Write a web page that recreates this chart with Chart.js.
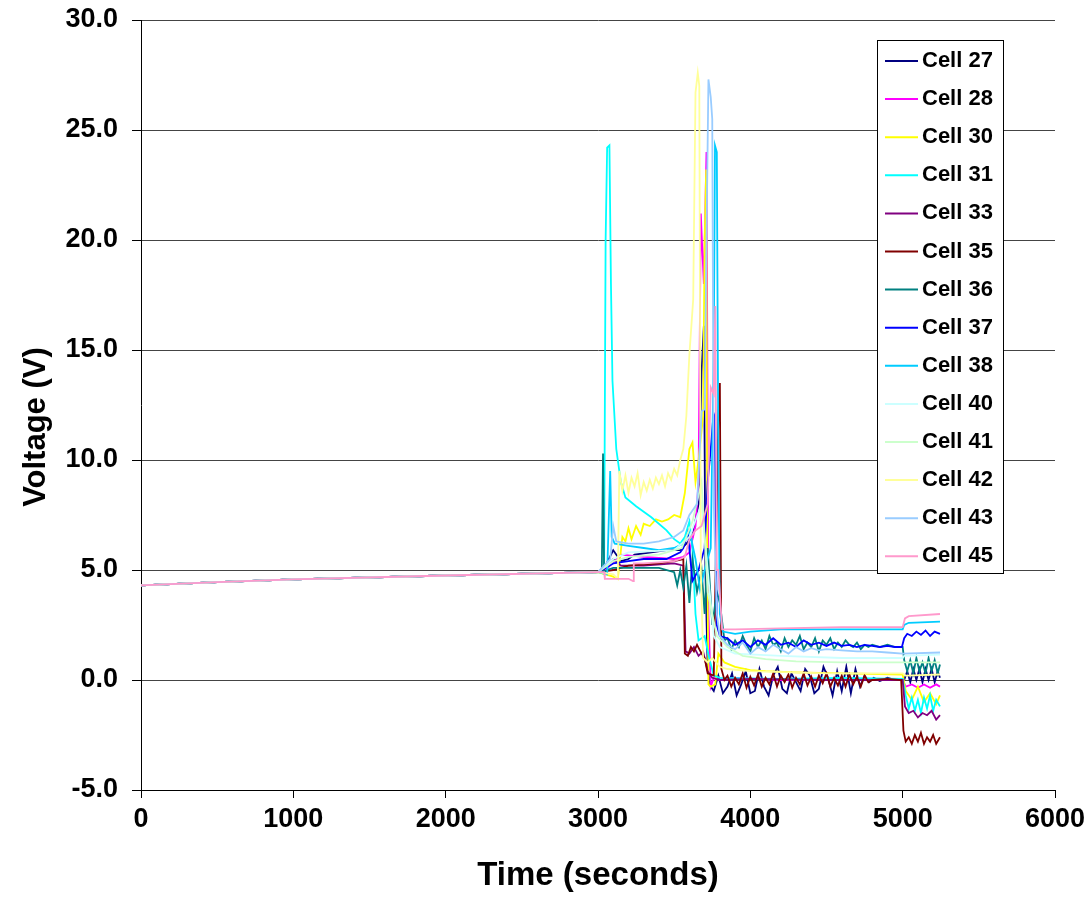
<!DOCTYPE html>
<html>
<head>
<meta charset="utf-8">
<title>Cell voltage vs time</title>
<script src="https://cdn.jsdelivr.net/npm/chart.js@4.4.0/dist/chart.umd.min.js"></script>
<style>
  html, body { margin: 0; padding: 0; background: #fff; }
  #wrap { width: 1088px; height: 923px; }
</style>
</head>
<body>
<div id="wrap"><canvas id="voltChart" width="1088" height="923"></canvas></div>
<script>
// Series names + Excel palette colours
const cellNames = ['Cell 27', 'Cell 28', 'Cell 30', 'Cell 31', 'Cell 33', 'Cell 35', 'Cell 36',
                   'Cell 37', 'Cell 38', 'Cell 40', 'Cell 41', 'Cell 42', 'Cell 43', 'Cell 45'];
const cellColors = ['#000080', '#FF00FF', '#FFFF00', '#00FFFF', '#800080', '#800000', '#008080',
                    '#0000FF', '#00CCFF', '#CCFFFF', '#CCFFCC', '#FFFF99', '#99CCFF', '#FF99CC'];

// All cells share the same slow rise up to ~3000 s
const baseTimes = [0, 500, 1000, 2000, 3000];
const baseVolts = [4.3, 4.45, 4.57, 4.75, 4.9];

const cell27 = [[3050,5.2],[3100,5.9],[3150,5.4],[3200,5.5],[3240,5.7],[3350,5.8],[3450,5.9],[3540,5.9],[3580,6.2],[3620,6.5],[3660,8.0],[3680,14.0],[3695,16.1],[3705,5.0],[3720,0.5],[3740,-0.3],[3760,-0.5],[3790,0.2],[3820,-0.6],[3850,-0.3],[3880,0.3],[3910,-0.7],[3940,-0.2],[3970,0.4],[4000,-0.6],[4030,-0.5],[4060,0.5],[4090,-0.3],[4120,-0.7],[4150,0.2],[4180,0.6],[4210,-0.4],[4240,-0.6],[4270,0.3],[4300,-0.1],[4330,-0.5],[4360,0.5],[4390,0.2],[4420,-0.6],[4450,-0.4],[4480,0.6],[4510,0.1],[4540,-0.7],[4570,0.4],[4600,-0.5],[4630,0.6],[4660,-0.6],[4690,0.5],[4720,-0.3],[4750,0.2],[4780,-0.1],[4810,0.1],[4850,-0.05],[4900,0.1],[4950,0.0],[4995,0.05],[5010,0.0],[5030,0.4],[5050,-0.1],[5070,0.5],[5090,0.0],[5110,0.5],[5130,-0.1],[5150,0.5],[5170,0.0],[5190,0.5],[5210,-0.1],[5230,0.4],[5245,0.1]];
const cell28 = [[3050,5.0],[3150,5.7],[3300,5.6],[3500,5.5],[3560,5.6],[3600,5.8],[3640,7.0],[3660,9.0],[3675,21.2],[3685,19.5],[3695,18.0],[3712,24.0],[3725,3.0],[3740,-0.3],[3760,0.1],[3800,0.0],[3900,0.1],[4200,0.0],[4600,0.05],[4900,0.0],[5000,0.0],[5020,-0.3],[5060,-0.2],[5100,-0.35],[5140,-0.2],[5180,-0.35],[5220,-0.2],[5245,-0.3]];
const cell30 = [[3100,4.7],[3130,4.6],[3160,6.5],[3180,6.3],[3200,6.9],[3220,6.4],[3250,7.0],[3280,6.6],[3300,7.1],[3340,7.0],[3380,7.3],[3420,7.2],[3460,7.3],[3500,7.5],[3540,7.4],[3570,8.5],[3600,10.5],[3620,10.8],[3640,9.0],[3660,10.0],[3690,12.0],[3700,20.0],[3710,23.2],[3718,5.0],[3725,-0.2],[3740,-0.3],[3770,-0.2],[3790,1.2],[3830,0.8],[3900,0.6],[4000,0.45],[4100,0.4],[4300,0.35],[4600,0.3],[5000,0.25],[5020,-0.5],[5060,-0.9],[5100,-0.3],[5140,-1.0],[5180,-0.6],[5220,-1.1],[5245,-0.7]];
const cell31 = [[3040,4.9],[3050,20.0],[3060,24.2],[3075,24.3],[3085,18.0],[3095,13.6],[3120,10.5],[3150,9.0],[3180,8.3],[3250,7.9],[3350,7.4],[3450,6.8],[3500,6.4],[3540,6.2],[3570,6.5],[3600,7.2],[3620,6.0],[3640,3.0],[3660,1.8],[3700,2.0],[3730,1.0],[3760,0.2],[3800,0.1],[4200,0.05],[4600,0.1],[5000,0.05],[5020,-0.7],[5040,-1.3],[5060,-0.8],[5080,-1.4],[5100,-0.9],[5120,-1.5],[5140,-0.8],[5160,-1.3],[5180,-0.7],[5200,-1.4],[5220,-0.9],[5245,-1.2]];
const cell33 = [[3050,5.1],[3100,5.5],[3150,5.2],[3300,5.2],[3500,5.3],[3560,5.2],[3575,1.3],[3600,1.2],[3630,1.5],[3660,1.1],[3690,1.3],[3720,0.4],[3750,0.1],[3800,0.0],[4000,0.05],[4500,0.0],[5000,0.0],[5015,-1.2],[5040,-1.5],[5070,-1.4],[5100,-1.7],[5130,-1.5],[5160,-1.6],[5190,-1.4],[5220,-1.8],[5245,-1.6]];
const cell35 = [[3100,5.0],[3200,5.2],[3400,5.3],[3500,5.4],[3560,5.5],[3570,1.2],[3590,1.1],[3610,1.5],[3630,1.3],[3650,1.6],[3680,1.2],[3700,1.0],[3720,0.3],[3760,0.2],[3790,12.0],[3800,13.5],[3810,0.5],[3830,0.0],[3850,0.2],[3875,-0.3],[3900,0.1],[3925,-0.2],[3950,0.3],[3975,-0.35],[4000,0.15],[4025,-0.25],[4050,0.25],[4075,-0.3],[4100,0.1],[4125,-0.2],[4150,0.3],[4175,-0.3],[4200,0.2],[4225,-0.1],[4250,0.25],[4275,-0.35],[4300,0.1],[4325,-0.2],[4350,0.3],[4375,-0.25],[4400,0.15],[4425,-0.3],[4450,0.2],[4475,-0.15],[4500,0.3],[4525,-0.3],[4550,0.1],[4575,-0.25],[4600,0.2],[4625,-0.3],[4650,0.25],[4675,-0.2],[4700,0.15],[4725,-0.3],[4750,0.2],[4775,-0.1],[4800,0.0],[4900,0.05],[4990,0.0],[5005,-2.3],[5020,-2.8],[5040,-2.6],[5060,-2.9],[5080,-2.5],[5100,-2.8],[5120,-2.4],[5140,-2.9],[5160,-2.6],[5180,-2.8],[5200,-2.5],[5220,-2.9],[5245,-2.6]];
const cell36 = [[3025,4.9],[3033,10.3],[3040,4.9],[3060,5.0],[3100,5.1],[3200,5.1],[3400,5.1],[3500,4.9],[3520,4.3],[3540,5.0],[3560,4.2],[3580,5.2],[3600,3.5],[3620,5.5],[3650,4.0],[3680,5.0],[3700,3.0],[3720,6.0],[3750,2.5],[3780,4.0],[3800,3.5],[3830,1.8],[3850,1.9],[3875,1.4],[3900,1.8],[3925,1.5],[3950,2.0],[3975,1.6],[4000,1.3],[4025,1.9],[4050,1.5],[4075,1.8],[4100,1.4],[4125,2.0],[4150,1.6],[4175,1.7],[4200,1.3],[4225,1.9],[4250,1.5],[4275,1.8],[4300,1.6],[4325,2.0],[4350,1.4],[4375,1.7],[4400,1.5],[4425,1.9],[4450,1.3],[4475,1.8],[4500,1.6],[4525,1.9],[4550,1.4],[4575,1.7],[4600,1.5],[4625,1.8],[4650,1.6],[4675,1.5],[4700,1.7],[4725,1.4],[4750,1.6],[4775,1.5],[4800,1.6],[4850,1.5],[4900,1.6],[4950,1.5],[5000,1.5],[5010,0.9],[5030,0.4],[5050,0.9],[5070,0.3],[5090,1.0],[5110,0.4],[5130,0.8],[5150,0.3],[5170,1.0],[5190,0.4],[5210,0.9],[5230,0.3],[5245,0.7]];
const cell37 = [[3100,5.3],[3200,5.4],[3300,5.5],[3450,5.5],[3540,5.8],[3560,6.0],[3590,6.7],[3620,4.5],[3660,5.0],[3700,6.0],[3720,9.0],[3740,10.5],[3755,11.8],[3765,12.0],[3780,2.5],[3800,2.0],[3850,1.9],[3900,1.6],[3950,1.8],[4000,1.5],[4050,1.8],[4100,1.6],[4150,1.9],[4200,1.6],[4250,1.7],[4300,1.5],[4350,1.8],[4400,1.6],[4450,1.7],[4500,1.55],[4550,1.7],[4600,1.55],[4650,1.6],[4700,1.5],[4750,1.6],[4800,1.55],[4850,1.5],[4900,1.55],[4950,1.5],[4995,1.5],[5010,1.9],[5030,2.1],[5060,2.0],[5090,2.2],[5120,2.05],[5150,2.25],[5180,2.0],[5210,2.2],[5245,2.1]];
const cell38 = [[3060,4.8],[3080,9.5],[3090,6.5],[3110,6.2],[3200,6.1],[3300,6.0],[3400,5.9],[3500,6.0],[3560,6.2],[3600,6.8],[3640,5.5],[3670,4.1],[3700,5.0],[3740,6.0],[3760,15.0],[3768,24.3],[3780,24.0],[3790,10.0],[3800,3.0],[3820,2.2],[3900,2.1],[4000,2.2],[4200,2.3],[4600,2.3],[5000,2.3],[5010,2.5],[5040,2.6],[5245,2.65]];
const cell40 = [[3100,5.5],[3200,5.8],[3500,5.9],[3600,6.5],[3680,8.0],[3720,5.0],[3760,2.0],[3800,1.5],[3900,1.2],[4200,1.1],[4600,1.0],[5000,1.0],[5010,1.1],[5245,1.15]];
const cell41 = [[3100,5.4],[3200,5.6],[3400,5.7],[3550,6.0],[3620,7.2],[3680,9.0],[3720,4.0],[3780,2.0],[3850,1.5],[3950,1.1],[4100,0.95],[4300,0.85],[4600,0.8],[5000,0.8],[5245,0.8]];
const cell42 = [[3100,4.8],[3130,4.6],[3140,9.5],[3160,8.6],[3180,9.3],[3200,8.5],[3220,9.2],[3240,8.8],[3260,9.4],[3280,8.4],[3300,9.0],[3320,8.6],[3340,9.1],[3360,8.7],[3380,9.2],[3400,8.9],[3420,9.3],[3440,8.8],[3460,9.4],[3480,9.1],[3500,9.6],[3520,9.3],[3540,10.0],[3560,10.5],[3580,12.0],[3600,14.8],[3625,17.3],[3640,26.7],[3655,27.6],[3665,27.0],[3675,5.0],[3690,1.0],[3720,0.8],[3750,1.0],[3800,0.6],[3850,0.5],[4000,0.4],[4500,0.3],[5000,0.3],[5020,0.2],[5245,0.25]];
const cell43 = [[3080,5.5],[3100,7.0],[3120,6.3],[3200,6.2],[3300,6.2],[3400,6.3],[3500,6.5],[3560,6.8],[3600,7.5],[3650,8.0],[3680,12.2],[3700,12.3],[3712,20.0],[3725,27.3],[3740,26.5],[3750,25.5],[3760,8.0],[3780,3.0],[3800,2.0],[3850,1.6],[3900,1.4],[3950,1.7],[4000,1.2],[4050,1.5],[4100,1.3],[4150,1.6],[4200,1.4],[4250,1.2],[4300,1.5],[4350,1.3],[4400,1.45],[4450,1.35],[4500,1.4],[4600,1.35],[4700,1.3],[4800,1.3],[4900,1.25],[5000,1.2],[5245,1.25]];
const cell45 = [[3040,4.9],[3045,4.6],[3200,4.6],[3230,4.5],[3235,5.3],[3300,5.3],[3400,5.35],[3500,5.4],[3540,5.5],[3570,5.6],[3600,6.4],[3640,6.8],[3680,7.0],[3720,8.0],[3740,13.3],[3760,13.0],[3770,17.0],[3780,5.0],[3790,5.0],[3815,2.3],[3900,2.3],[4200,2.35],[4600,2.4],[5000,2.4],[5015,2.8],[5040,2.9],[5245,3.0]];

const cellData = [cell27, cell28, cell30, cell31, cell33, cell35, cell36,
                  cell37, cell38, cell40, cell41, cell42, cell43, cell45];

const yTicks = [-5, 0, 5, 10, 15, 20, 25, 30];

function buildPoints(pairs) {
    const pts = baseTimes.map((t, i) => ({ x: t, y: baseVolts[i] }));
    pairs.forEach(p => pts.push({ x: p[0], y: p[1] }));
    return pts;
}

const datasets = cellNames.map((name, i) => ({
    label: name,
    data: buildPoints(cellData[i]),
    borderColor: cellColors[i],
    backgroundColor: cellColors[i],
    borderWidth: 1.8,
    pointRadius: 0,
    tension: 0,
    fill: false,
    order: cellNames.length - i   // later series drawn on top, like Excel
}));

const fontFamily = '"Liberation Sans", Arial, sans-serif';

// Legend box inside the plot (top right) and the y axis title
const boxLegend = {
    id: 'boxLegend',
    afterDraw(chart) {
        const ctx = chart.ctx;
        const x = 877.5, y = 40.5, w = 126, h = 533, row = 38.1;
        ctx.save();
        ctx.fillStyle = '#fff';
        ctx.fillRect(x, y, w, h);
        ctx.strokeStyle = '#000';
        ctx.lineWidth = 1;
        ctx.strokeRect(x, y, w, h);
        ctx.font = 'bold 22px ' + fontFamily;
        ctx.textBaseline = 'middle';
        ctx.fillStyle = '#000';
        cellNames.forEach((name, i) => {
            const cy = 61 + i * row;
            ctx.strokeStyle = cellColors[i];
            ctx.lineWidth = 2;
            ctx.beginPath();
            ctx.moveTo(885, cy);
            ctx.lineTo(918, cy);
            ctx.stroke();
            ctx.fillText(name, 922, cy);
        });

        // y title sits a bit below the plot centre in the original
        ctx.translate(36, 427);
        ctx.rotate(-Math.PI / 2);
        ctx.font = 'bold 31px ' + fontFamily;
        ctx.textAlign = 'center';
        ctx.fillText('Voltage (V)', 0, 0);
        ctx.restore();
    }
};

const tickFont = { family: fontFamily, size: 27, weight: 'bold' };
const titleFont = { family: fontFamily, size: 33, weight: 'bold' };

new Chart(document.getElementById('voltChart'), {
    type: 'line',
    data: { datasets: datasets },
    options: {
        responsive: false,
        animation: false,
        devicePixelRatio: 1,
        layout: { padding: { top: 20, right: 33, left: 0, bottom: 0 } },
        plugins: {
            legend: { display: false },
            tooltip: { enabled: false }
        },
        scales: {
            x: {
                type: 'linear',
                min: 0,
                max: 6000,
                ticks: { stepSize: 1000, color: '#000', font: tickFont, padding: 5, maxRotation: 0,
                         callback: v => String(v) },
                grid: { drawOnChartArea: false, tickLength: 8, tickColor: '#000' },
                border: { color: '#000', width: 1 },
                title: { display: true, text: 'Time (seconds)', color: '#000', font: titleFont, padding: { top: 0, bottom: 27 } },
                afterFit: s => { s.height = 133; s.paddingLeft = 0; s.paddingRight = 0; }
            },
            y: {
                min: -5,
                max: 30,
                afterBuildTicks: s => { s.ticks = yTicks.map(v => ({ value: v })); },
                ticks: { color: '#000', font: tickFont, padding: 14, callback: v => v.toFixed(1) },
                grid: { color: '#444', lineWidth: 1, tickLength: 9, tickColor: '#000' },
                border: { color: '#000', width: 1 },
                title: { display: false },
                afterFit: s => { s.width = 141; s.paddingTop = 0; s.paddingBottom = 0; }
            }
        }
    },
    plugins: [boxLegend]
});
</script>
</body>
</html>
